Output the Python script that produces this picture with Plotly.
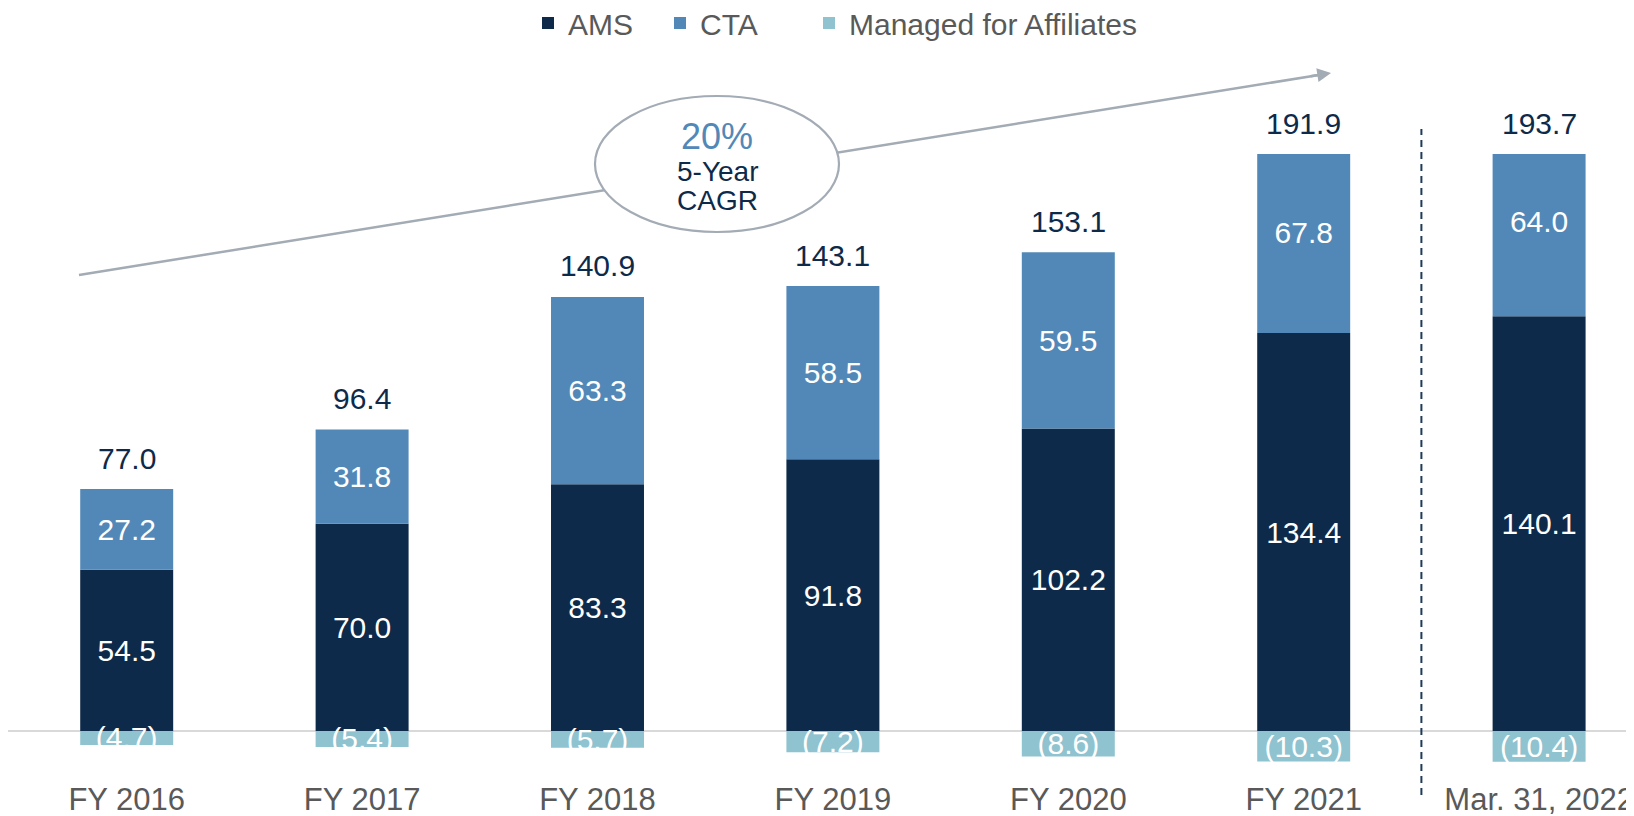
import plotly.graph_objects as go

categories = ["FY 2016", "FY 2017", "FY 2018", "FY 2019", "FY 2020", "FY 2021", "Mar. 31, 2022"]
ams = [54.5, 70.0, 83.3, 91.8, 102.2, 134.4, 140.1]
cta = [27.2, 31.8, 63.3, 58.5, 59.5, 67.8, 64.0]
mfa = [-4.7, -5.4, -5.7, -7.2, -8.6, -10.3, -10.4]
totals = [77.0, 96.4, 140.9, 143.1, 153.1, 191.9, 193.7]
series_names = ["AMS", "CTA", "Managed for Affiliates"]
cagr_text = "20%"

C_AMS = "#0E2A4A"
C_CTA = "#5288B7"
C_MFA = "#8FC3D0"
C_GRAY = "#595959"
C_ARROW = "#A3ABB4"
FONT = "Arial, Liberation Sans, sans-serif"

Y_MIN, Y_MAX = -16.9, 194.9
OFF = 8  # page body margin
W, H = 1634 - OFF, 816 - OFF
ML, MR, MT, MB = 0, 0, 154 - OFF, 816 - 781
PW, PH = W - ML - MR, H - MT - MB


def px(x):
    """page pixel x -> paper fraction"""
    return (x - OFF - ML) / PW


def py(y):
    """page pixel y -> paper fraction"""
    return (H - MB - (y - OFF)) / PH


fig = go.Figure()
common = dict(textposition="inside", insidetextanchor="middle", constraintext="none",
              textangle=0, insidetextfont=dict(color="white", size=30, family=FONT),
              marker_line_width=0)
fig.add_trace(go.Bar(name=series_names[0], x=categories, y=ams, marker_color=C_AMS,
                     text=[f"{v:.1f}" for v in ams], legend="legend", **common))
fig.add_trace(go.Bar(name=series_names[1], x=categories, y=cta, marker_color=C_CTA,
                     text=[f"{v:.1f}" for v in cta], legend="legend2", **common))
fig.add_trace(go.Bar(name=series_names[2], x=categories, y=mfa, marker_color=C_MFA,
                     text=[f"({abs(v):.1f})" for v in mfa], legend="legend3", **common))

for c, a, b, t in zip(categories, ams, cta, totals):
    fig.add_annotation(x=c, y=min(a + b, Y_MAX), text=f"{t:.1f}", showarrow=False,
                       yanchor="middle", yshift=31,
                       font=dict(size=30, color=C_AMS, family=FONT))

# CAGR arrow line
fig.add_shape(type="line", xref="paper", yref="paper",
              x0=px(79), y0=py(275), x1=px(1322), y1=py(74.5),
              line=dict(color=C_ARROW, width=2.5), layer="above")
fig.add_annotation(xref="paper", yref="paper", x=px(1331), y=py(73), text="",
                   showarrow=True, arrowhead=2, arrowsize=1.1, arrowwidth=2.5,
                   arrowcolor=C_ARROW, ax=-22, ay=3.5, standoff=0)
# ellipse
fig.add_shape(type="circle", xref="paper", yref="paper",
              x0=px(595), x1=px(839), y0=py(232), y1=py(96),
              line=dict(color=C_ARROW, width=2.2), fillcolor="white", layer="above")
fig.add_annotation(xref="paper", yref="paper", x=px(717), y=py(136), text=cagr_text,
                   showarrow=False, yanchor="middle",
                   font=dict(size=36, color=C_CTA, family=FONT))
fig.add_annotation(xref="paper", yref="paper", x=px(717), y=py(171), text="5-Year",
                   showarrow=False, yanchor="middle",
                   font=dict(size=28, color=C_AMS, family=FONT))
fig.add_annotation(xref="paper", yref="paper", x=px(717), y=py(200), text="CAGR",
                   showarrow=False, yanchor="middle",
                   font=dict(size=28, color=C_AMS, family=FONT))

# dashed separator
fig.add_shape(type="line", xref="x", yref="paper", x0=5.5, x1=5.5,
              y0=py(795), y1=py(129),
              line=dict(color="#1F3A5A", width=2, dash="7px,5px"), layer="above")


def leg(text_start_page):
    return dict(orientation="h", x=px(text_start_page - 40), xanchor="left",
                y=py(23), yanchor="middle",
                font=dict(size=30, color=C_GRAY, family=FONT),
                itemclick=False, bgcolor="rgba(0,0,0,0)")


fig.update_layout(
    width=W, height=H,
    barmode="relative", bargap=0.605,
    margin=dict(l=ML, r=MR, t=MT, b=MB, pad=0, autoexpand=False),
    plot_bgcolor="white", paper_bgcolor="white",
    font=dict(family=FONT, color=C_GRAY),
    showlegend=True,
    legend=leg(568), legend2=leg(700), legend3=leg(849),
    xaxis=dict(range=[-118.7 / 235.4, -118.7 / 235.4 + PW / 235.4], showgrid=False,
               showline=False, ticks="", ticklabelstandoff=-3,
               tickfont=dict(size=31, color=C_GRAY, family=FONT), automargin=False),
    yaxis=dict(range=[Y_MIN, Y_MAX], showgrid=False, showticklabels=False,
               zeroline=True, zerolinecolor="#D9D9D9", zerolinewidth=2,
               layer="above traces", automargin=False),
)

fig.write_html("out.html")
